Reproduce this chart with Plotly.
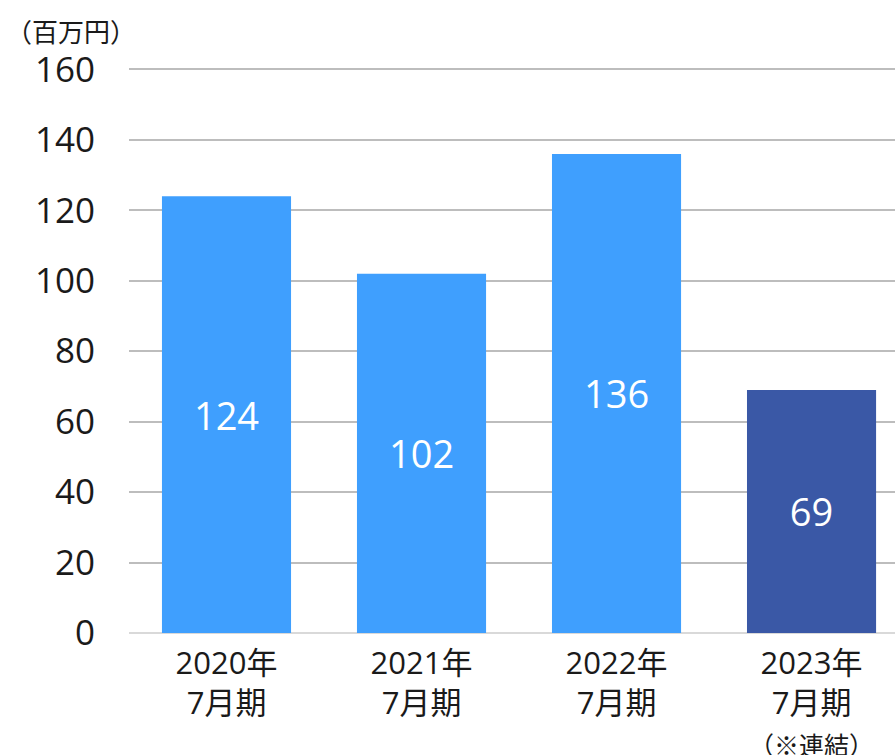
import plotly.graph_objects as go

categories = ["2020年<br>7月期", "2021年<br>7月期", "2022年<br>7月期",
              "2023年<br>7月期<br><span style='font-size:25px'>（※連結）</span>"]
values = [124, 102, 136, 69]
colors = ["#3f9ffe", "#3f9ffe", "#3f9ffe", "#3a58a6"]
y_ticks = [0, 20, 40, 60, 80, 100, 120, 140, 160]
unit_label = "（百万円）"

FONT = "Open Sans, Noto Sans CJK JP, sans-serif"
CJK = "Noto Sans CJK JP, sans-serif"

fig = go.Figure(go.Bar(
    x=list(range(len(categories))),
    y=values,
    marker=dict(color=colors, line=dict(width=0)),
    width=0.662,
    text=[str(v) for v in values],
    textposition="inside",
    insidetextanchor="middle",
    textfont=dict(color="white", size=38, family=FONT),
    textangle=0,
))

fig.update_layout(
    width=895, height=755,
    margin=dict(l=129, r=0, t=68, b=122),
    paper_bgcolor="white", plot_bgcolor="white",
    showlegend=False,
    font=dict(family=FONT, color="#1a1a1a"),
    uniformtext=dict(mode=False),
)
fig.update_xaxes(
    range=[-0.5, 3.428],
    tickmode="array",
    tickvals=list(range(len(categories))),
    ticktext=categories,
    tickfont=dict(size=31, color="#1a1a1a"),
    showgrid=False, zeroline=False, showline=False, ticks="",
    ticklabelstandoff=9,
    automargin=False,
)
fig.update_yaxes(
    range=[0, 160.4],
    tickmode="array",
    tickvals=y_ticks,
    tickfont=dict(size=35, color="#1a1a1a"),
    showgrid=True, gridcolor="#bdbdbd", gridwidth=1.5,
    zeroline=True, zerolinecolor="#d9d9d9", zerolinewidth=2,
    showline=False, ticks="",
    ticklabelstandoff=33,
    automargin=False,
)
fig.add_annotation(
    text=unit_label, xref="paper", yref="paper",
    x=-125/766, y=1 + 38/565, xanchor="left", yanchor="middle",
    showarrow=False, font=dict(size=26, color="#1a1a1a", family=CJK),
)
fig.write_html(
    "out.html",
    config={"displayModeBar": False},
    post_script="document.body.style.margin='0';document.body.style.overflow='hidden';",
)
